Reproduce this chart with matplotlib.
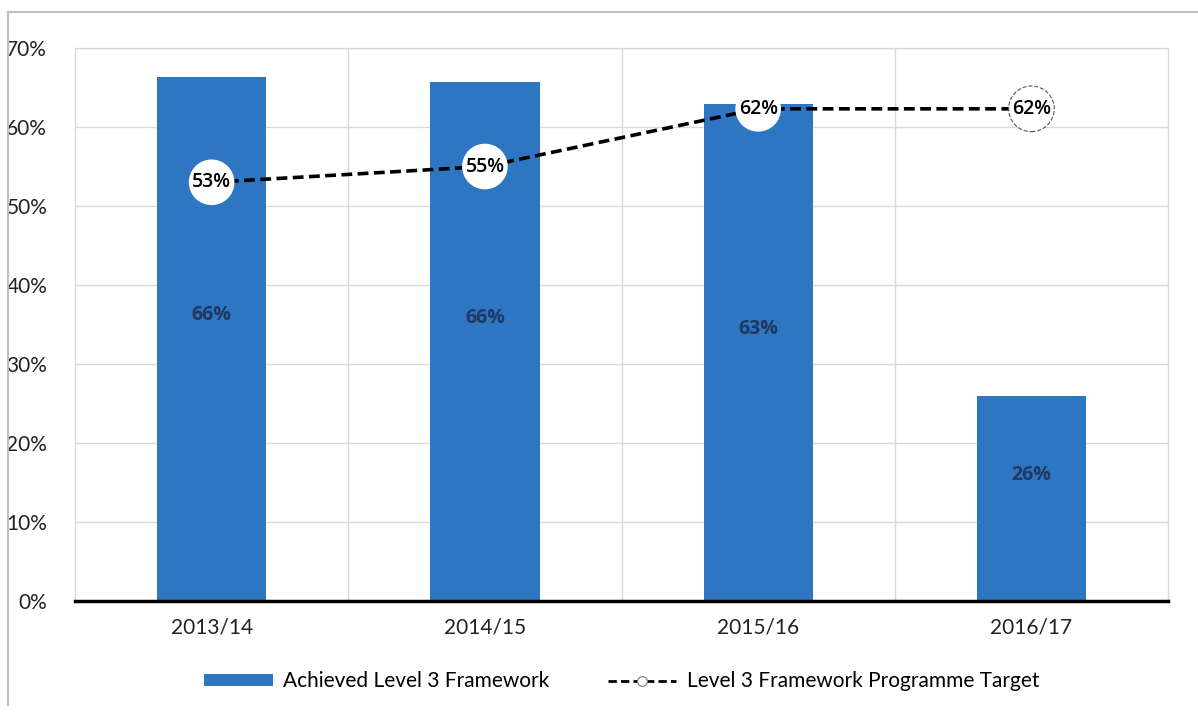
import matplotlib
matplotlib.use("Agg")
import matplotlib.pyplot as plt
from matplotlib.lines import Line2D
import numpy as np

plt.rcParams['font.family'] = ['Lato', 'DejaVu Sans']

# data
years = ['2013/14', '2014/15', '2015/16', '2016/17']
achieved = [66.3, 65.7, 62.9, 26.0]
achieved_labels = ['66%', '66%', '63%', '26%']
target = [53, 55, 62.3, 62.3]
target_labels = ['53%', '55%', '62%', '62%']

bar_col = '#2E75C2'
grid_col = '#D9D9D9'

fig = plt.figure(figsize=(11.98, 7.13), dpi=100)
ax = fig.add_axes([0.0626, 0.157, 0.9124, 0.7757])

x = np.arange(len(years))
bars = ax.bar(x, achieved, width=0.4, color=bar_col, zorder=2,
              label='Achieved Level 3 Framework')

# bar labels, sitting a bit above the middle of each bar
for xi, v, lab in zip(x, achieved, achieved_labels):
    ax.text(xi, v / 2 + 3, lab, ha='center', va='center', fontsize=14,
            family=['Open Sans', 'DejaVu Sans'], fontweight='bold',
            color='#1F3864', zorder=3)

ax.plot(x, target, color='black', linestyle=(0, (3, 1.5)), linewidth=2.6,
        zorder=4)
ax.scatter(x[:3], target[:3], s=1080, facecolor='white', edgecolor='none',
           zorder=5)
ax.scatter(x[3:], target[3:], s=1080, facecolor='white', edgecolor='#555555',
           linewidths=0.8, linestyles='--', zorder=5)
for xi, v, lab in zip(x, target, target_labels):
    ax.text(xi, v, lab, ha='center', va='center', fontsize=14,
            family=['Open Sans', 'DejaVu Sans'], fontweight='semibold',
            color='black', zorder=6)

ax.set_xlim(-0.5, 3.5)
ax.set_ylim(0, 70)
ax.set_yticks(np.arange(0, 71, 10))
ax.set_yticklabels([f'{t}%' for t in range(0, 71, 10)])
ax.set_xticks(x)
ax.set_xticklabels(years)
ax.tick_params(axis='both', length=0, labelsize=15, colors='#222222')
ax.tick_params(axis='y', pad=20)
ax.tick_params(axis='x', pad=12)

ax.set_axisbelow(True)
ax.yaxis.grid(True, color=grid_col, linewidth=1)
ax.set_xticks([0.5, 1.5, 2.5], minor=True)
ax.xaxis.grid(True, which='minor', color=grid_col, linewidth=1)
ax.tick_params(axis='x', which='minor', length=0)

for side in ['left', 'right', 'top']:
    ax.spines[side].set_color(grid_col)
    ax.spines[side].set_linewidth(1)
ax.spines['bottom'].set_color('black')
ax.spines['bottom'].set_linewidth(2.5)
ax.spines['bottom'].set_zorder(7)

# legend
target_handle = Line2D([], [], color='black', linestyle=(0, (3, 1.5)),
                       linewidth=2, marker='o', markersize=7,
                       markerfacecolor='white', markeredgecolor='#777777',
                       markeredgewidth=0.8)
ax.legend([bars, target_handle],
          ['Achieved Level 3 Framework', 'Level 3 Framework Programme Target'],
          loc='center', bbox_to_anchor=(0.5, -0.145), ncol=2, frameon=False,
          fontsize=15, handlelength=3.3, handleheight=0.5,
          columnspacing=2.8, handletextpad=0.5)

# outer chart frame (left and top only visible)
fig.add_artist(Line2D([0.0067, 0.0067], [0.983, 0.011], color='#BFBFBF',
                      linewidth=1.5))
fig.add_artist(Line2D([0.0067, 1.0], [0.983, 0.983], color='#BFBFBF',
                      linewidth=1.5))

fig.savefig('out.png', dpi=100, facecolor='white')
